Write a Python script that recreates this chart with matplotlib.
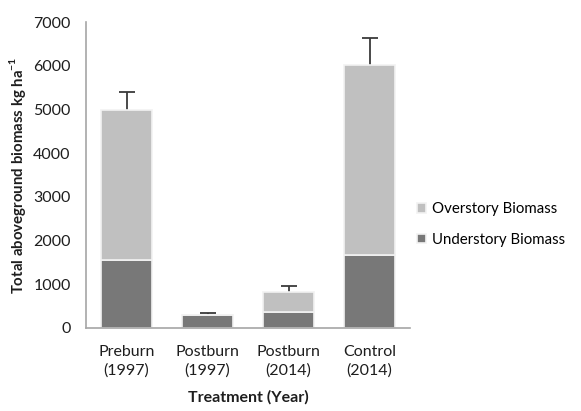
import numpy as np
import matplotlib.pyplot as plt

# data
treatments = ["Preburn\n(1997)", "Postburn\n(1997)", "Postburn\n(2014)", "Control\n(2014)"]
understory = [1560, 300, 370, 1660]
overstory = [3440, 0, 450, 4350]
total_err = [400, 40, 140, 620]

plt.rcParams["font.family"] = ["Lato", "DejaVu Sans"]
plt.rcParams["mathtext.fontset"] = "custom"
plt.rcParams["mathtext.rm"] = "Lato"
plt.rcParams["mathtext.bf"] = "Lato:bold"

fig = plt.figure(figsize=(5.81, 4.11), dpi=100)
ax = fig.add_axes([0.148, 0.202, 0.558, 0.744])

x = np.arange(len(treatments))
under = np.array(understory)
over = np.array(overstory)
err = np.array(total_err)
totals = under + over

b1 = ax.bar(x, under, width=0.63, color="#787878", edgecolor="#f2f2f2", linewidth=1.2, zorder=2)
b2 = ax.bar(x, over, bottom=under, width=0.63, color="#c0c0c0", edgecolor="#f2f2f2",
            linewidth=1.2, zorder=2)

# upper error bars only, with a cap at the top
ax.vlines(x, totals, totals + err, color="#3a3a3a", linewidth=1.3, zorder=1)
ax.plot(x, totals + err, linestyle="none", marker="_", markersize=11,
        markeredgewidth=1.3, color="#3a3a3a", zorder=1)

ax.set_xlim(-0.5, 3.5)
ax.set_ylim(0, 7000)
ax.set_yticks(range(0, 7001, 1000))
ax.set_xticks(x)
ax.set_xticklabels(treatments, fontsize=11.5, color="#1e1e1e", linespacing=1.45)
ax.tick_params(axis="y", labelsize=11.5, colors="#1e1e1e", length=0, pad=11)
ax.tick_params(axis="x", length=0, pad=12)

for side in ["top", "right"]:
    ax.spines[side].set_visible(False)
for side in ["left", "bottom"]:
    ax.spines[side].set_color("#a6a6a6")
    ax.spines[side].set_linewidth(1.2)

ax.set_ylabel(r"Total aboveground biomass kg ha$^{\mathbf{-1}}$", fontsize=10.8,
              fontweight="bold", color="#1e1e1e", labelpad=4)
ax.set_xlabel("Treatment (Year)", fontsize=11.5, fontweight="bold", color="#1e1e1e", labelpad=9)

fig.legend([b2, b1], ["Overstory Biomass", "Understory Biomass"], loc="center left",
           bbox_to_anchor=(0.718, 0.454), frameon=False, fontsize=10.8,
           handlelength=0.6, handleheight=0.6, handletextpad=0.4, labelspacing=1.1,
           borderaxespad=0, borderpad=0)

fig.savefig("out.png", dpi=100)
